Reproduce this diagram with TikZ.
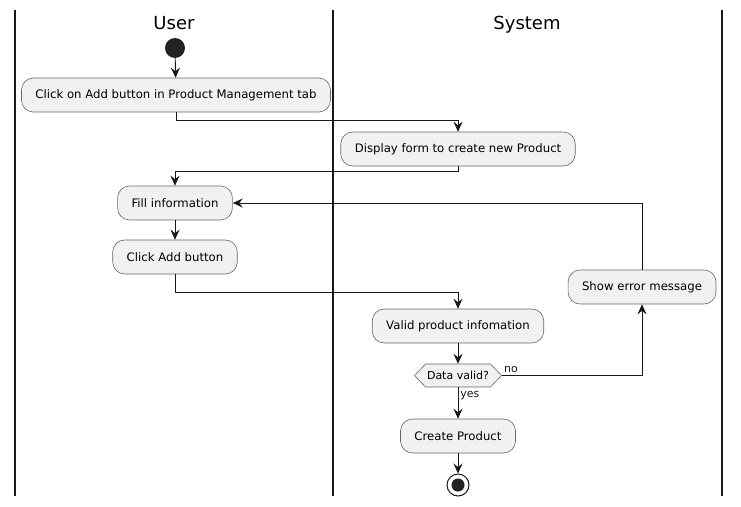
\documentclass[tikz,border=0pt]{standalone}
\usepackage{fontspec}
\setmainfont{DejaVu Sans}
\usetikzlibrary{arrows.meta}
\definecolor{actfill}{HTML}{F1F1F1}
\definecolor{actline}{HTML}{181818}
\definecolor{dotfill}{HTML}{222222}

\begin{document}
\begin{tikzpicture}[x=1pt,y=-1pt,
  lane/.style={line width=1.2pt,actline},
  title/.style={font=\fontsize{18}{20}\selectfont,anchor=base},
  flow/.style={line width=0.9pt,actline,-{Stealth[length=10pt,width=9pt,inset=3.5pt]}},
  lbl/.style={font=\fontsize{11}{12}\selectfont,inner sep=2pt}]
  \useasboundingbox (0,0) rectangle (741,506);

  % swimlanes
  \draw[lane] (15,10) -- (15,496);
  \draw[lane] (333,10) -- (333,496);
  \draw[lane] (722,10) -- (722,496);
  \node[title] (user) at (174,29) {User};
  \node[title] (system) at (527,29) {System};

  \begin{scope}[every node/.style={rectangle,rounded corners=12pt,draw=black!60,line width=0.6pt,
      fill=actfill,minimum height=34pt,inner xsep=14pt,font=\fontsize{11.7}{14}\selectfont}]
    \node (click) at (176,95) {Click on Add button in Product Management tab};
    \node (form) at (458,149) {Display form to create new Product};
    \node (fill) at (175,203) {Fill information};
    \node (addbtn) at (175,257) {Click Add button};
    \node (valid) at (458,326) {Valid product infomation};
    \node (error) at (642,287) {Show error message};
    \node (create) at (458,436) {Create Product};
  \end{scope}

  % decision
  \coordinate (checkc) at (458,375.5);
  \draw[draw=black!60,line width=0.6pt,fill=actfill] ([xshift=-43.5pt]checkc)
    -- ([xshift=-32.5pt,yshift=11.5pt]checkc) -- ([xshift=32.5pt,yshift=11.5pt]checkc)
    -- ([xshift=43.5pt]checkc) -- ([xshift=32.5pt,yshift=-11.5pt]checkc)
    -- ([xshift=-32.5pt,yshift=-11.5pt]checkc) -- cycle;
  \node (check) [minimum width=87pt,minimum height=23pt,inner sep=0pt,
    font=\fontsize{11}{12}\selectfont] at (checkc) {Data valid?};

  \node (start) [circle,fill=dotfill,minimum size=20pt,inner sep=0pt] at (175,48) {};
  \node (stop) [circle,draw=actline,line width=1pt,minimum size=22pt,inner sep=0pt,
    path picture={\fill[dotfill] (path picture bounding box.center) circle (6.5pt);}] at (458,485) {};

  \draw[flow] (start) -- (click);
  \draw[flow] (click.south) -- ++(0,8) -| (form.north);
  \draw[flow] (form.south) -- ++(0,5) -| (fill.north);
  \draw[flow] (fill) -- (addbtn);
  \draw[flow] (addbtn.south) -- ++(0,18) -| (valid.north);
  \draw[flow] (valid) -- (check);
  \draw[flow] (check.east) -| node[lbl,pos=0,anchor=south west] {no} (error.south);
  \draw[flow] (error.north) |- (fill.east);
  \draw[flow] (check.south) -- node[lbl,pos=0,anchor=north west,yshift=-1.5pt] {yes} (create);
  \draw[flow] (create) -- (stop);
\end{tikzpicture}
\end{document}
